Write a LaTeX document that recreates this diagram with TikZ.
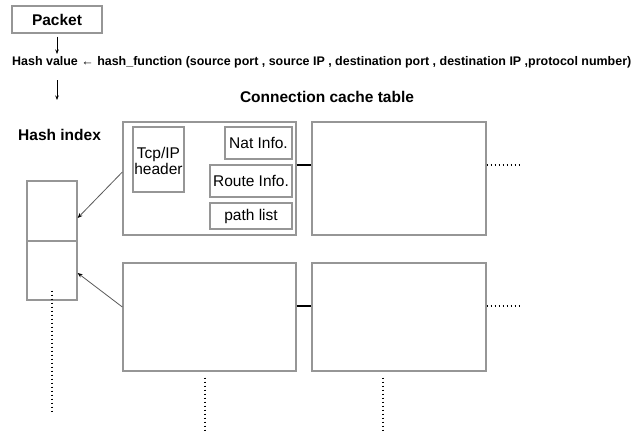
\documentclass[tikz,border=0pt]{standalone}
\usepackage{fontspec}
\setmainfont{Liberation Sans}
\usetikzlibrary{arrows.meta}
\definecolor{boxgray}{RGB}{150,150,150}
\definecolor{arrgray}{RGB}{90,90,90}
\begin{document}
\begin{tikzpicture}[x=1pt,y=-1pt,
  box/.style={draw=boxgray, line width=1.3pt, inner sep=0pt},
  bigbold/.style={font=\bfseries\fontsize{15.5}{18}\selectfont},
  boxtext/.style={font=\fontsize{15.5}{15.5}\selectfont},
  arr/.style={draw=black, line width=0.6pt, -{Stealth[length=4.5pt,width=3.5pt]}},
  harr/.style={draw=arrgray, line width=0.8pt, -{Stealth[length=5pt,width=4pt,color=black]}},
  link/.style={draw=black, line width=2pt},
  dots/.style={draw=black, line width=1.5pt, dash pattern=on 1.4pt off 2.6pt}]
\useasboundingbox (0,0) rectangle (634,432);
\fill[white] (0,0) rectangle (634,432);

% top part
\node[box, bigbold, minimum width=90pt, minimum height=27pt] (packet) at (57,19.5) {Packet};
\node[anchor=west, inner sep=0pt] (hv) at (12,62)
  {\resizebox{619pt}{!}{\fontsize{10.5}{12}\selectfont\bfseries Hash value ← hash\_function (source port , source IP , destination port , destination IP ,protocol number)}};
\draw[arr, shorten <=3pt, shorten >=2pt] (packet.south) -- (packet.south |- hv.north);
\coordinate (a2end) at (57,100);
\draw[arr, shorten <=12pt] (hv.south -| a2end) -- (a2end);

\node[bigbold, inner sep=0pt] (cct) at (327,97) {Connection cache table};
\node[bigbold, anchor=west, inner sep=0pt] (hix) at (18,135) {Hash index};

% hash index column
\node[box, minimum width=50pt, minimum height=60pt] (cell1) at (52,211) {};
\node[box, minimum width=50pt, minimum height=59pt] (cell2) at (52,270.5) {};

% cache entries
\node[box, minimum width=173pt, minimum height=113pt] (e11) at (209.5,178.5) {};
\node[box, minimum width=174pt, minimum height=113pt] (e12) at (399,178.5) {};
\node[box, minimum width=173pt, minimum height=108pt] (e21) at (209.5,317) {};
\node[box, minimum width=174pt, minimum height=108pt] (e22) at (399,317) {};

% inner fields
\node[box, boxtext, minimum width=51pt, minimum height=65pt] (tcp) at (158.5,159.5)
  {\raisebox{-4pt}[\height][\depth]{\begin{tabular}{@{}c@{}}Tcp/IP\\header\end{tabular}}};
\node[box, boxtext, minimum width=67pt, minimum height=32pt] (nat) at (258.5,143) {Nat Info.};
\node[box, boxtext, minimum width=82pt, minimum height=32pt] (route) at (251,181) {Route Info.};
\node[box, boxtext, minimum width=82pt, minimum height=26pt] (path) at (251,216) {path list};

% links
\draw[link] ([yshift=13.5pt]e11.east) -- ([yshift=13.5pt]e12.west);
\draw[link] ([yshift=11pt]e21.east) -- ([yshift=11pt]e22.west);

% arrows to hash index
\draw[harr] ([yshift=6.5pt]e11.west) -- ([yshift=-7pt]cell1.east);
\draw[harr] ([yshift=10pt]e21.west) -- ([yshift=-2.5pt]cell2.east);

% dotted continuations
\coordinate (d1) at (520,165);
\coordinate (d2) at (520,306);
\draw[dots] (e12.east |- d1) -- (d1);
\draw[dots] (e22.east |- d2) -- (d2);
\coordinate (hd) at (52,412);
\draw[dots] ([yshift=10pt]cell2.south) -- (hd);
\coordinate (b1) at (205,430);
\coordinate (b2) at (383,430);
\draw[dots, shorten <=6pt] (e21.south -| b1) -- (b1);
\draw[dots, shorten <=6pt] (e22.south -| b2) -- (b2);
\end{tikzpicture}
\end{document}
